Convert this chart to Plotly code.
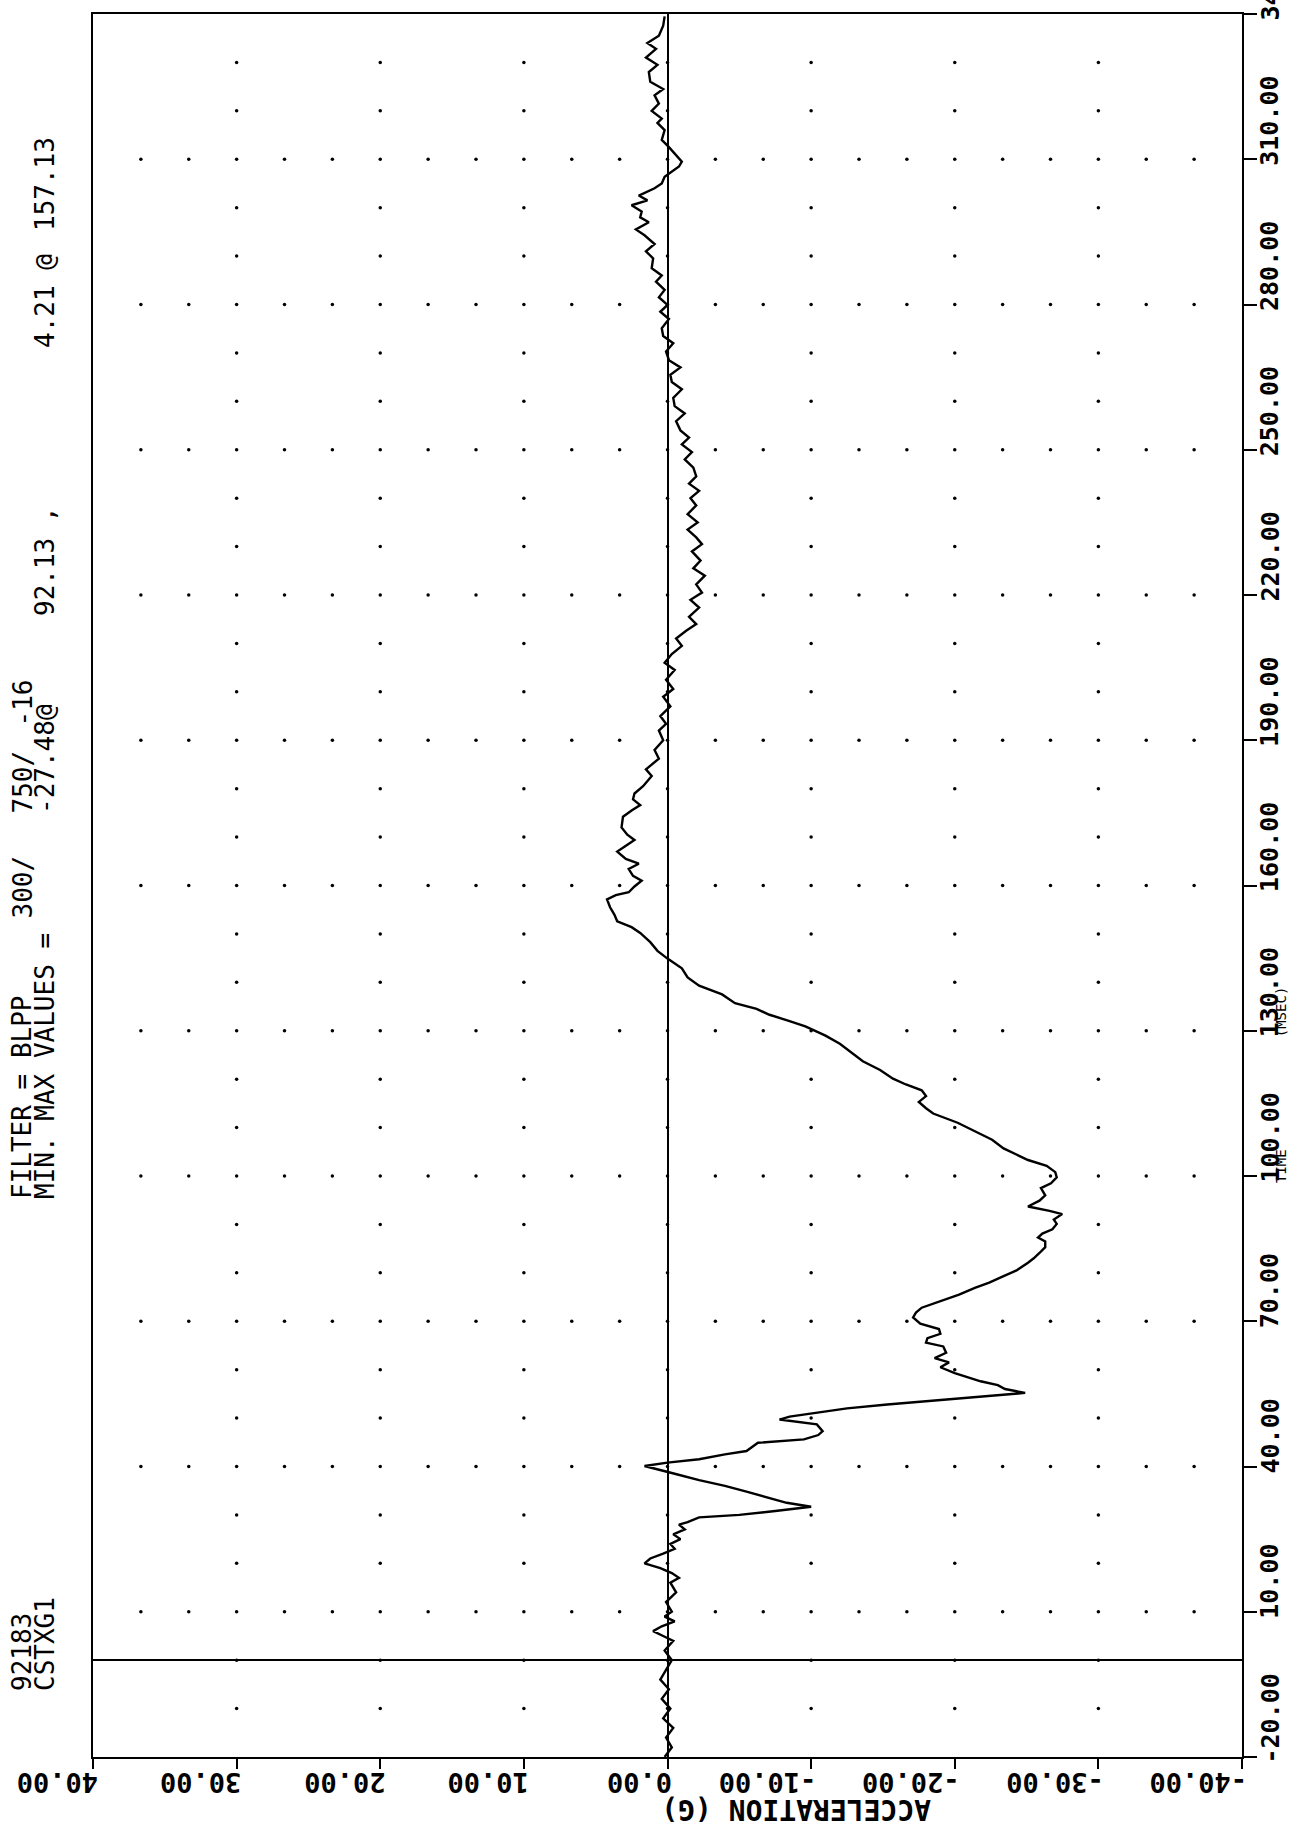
import plotly.graph_objects as go

# acceleration trace (G) versus time (msec)
time_ms = [
    -20, -18, -16, -14, -12, -10, -8, -6, -4, -2, 0, 2, 4, 5, 6, 7, 8, 9, 10, 12,
    14, 16, 17, 18, 19, 20, 21, 22, 23, 24, 25, 26, 27, 28, 28.5, 29.5, 30.0, 30.8,
    31.7, 32.5, 33.5, 34.8, 36.0, 37.2, 38.5, 40.1, 40.8, 41.5, 42.5, 43.2, 44.9,
    45.6, 46.5, 47.3, 48.7, 49.7, 50.3, 51.1, 52.0, 52.8, 53.5, 54.0, 54.6, 55.2,
    56.0, 56.8, 57.6, 58.5, 59.3, 60.5, 61.5, 62.4, 63.5, 64.8, 65.6, 66.5, 67.4,
    68.4, 69.5, 70.8, 71.8, 72.8, 73.6, 74.4, 75.5, 76.9, 78.0, 79.3, 80.5, 82.1,
    83.0, 84.1, 85.3, 86.5, 87.3, 88.1, 89.0, 90.1, 91.0, 92.13, 92.8, 93.7, 94.9,
    96.0, 97.5, 98.5, 99.7, 100.8, 102.1, 103.3, 104.5, 105.7, 107.5, 109.3, 111.0,
    112.9, 114.0, 115.3, 116.5, 117.7, 118.9, 120.1, 121.9, 123.7, 125.5, 127.3,
    129.0, 130.9, 132.0, 133.3, 134.5, 135.7, 137.5, 139.3, 141.0, 142.9, 144.9,
    146.5, 148.3, 150.2, 151.4, 152.6, 154.0, 155.5, 157.13, 158.0, 158.6, 159.8,
    161.0, 162.0, 163.4, 164.5, 165.5, 167.0, 168.0, 169.4, 170.5, 172.0, 174.2,
    175.5, 176.6, 177.8, 179.0, 180.5, 182.6, 184.0, 186.2, 188.0, 190.0, 192.0,
    193.4, 195.0, 197.0, 199.0, 200.6, 202.5, 204.5, 206.0, 207.8, 209.5, 211.0,
    212.6, 214.0, 215.5, 217.4, 219.0, 220.5, 222.2, 224.0, 225.5, 227.1, 229.0,
    230.5, 231.9, 233.5, 235.0, 236.7, 238.5, 240.0, 241.5, 243.0, 244.5, 246.3,
    248.0, 249.5, 251.1, 252.5, 254.0, 255.9, 257.5, 259.0, 260.7, 262.5, 264.0,
    265.5, 267.0, 268.5, 270.3, 272.0, 273.5, 275.1, 277.0, 278.5, 279.9, 281.5,
    283.0, 284.7, 286.0, 287.5, 289.5, 291.0, 292.5, 294.3, 295.5, 297.0, 298.0,
    299.2, 300.5, 301.5, 302.5, 304.0, 305.0, 306.4, 307.5, 308.5, 309.5, 311.2,
    312.5, 314.0, 316.0, 317.5, 318.4, 320.0, 321.5, 323.2, 324.5, 326.0, 328.0,
    329.5, 331.0, 332.8, 334.0, 335.5, 337.6, 339.5,
]
accel_g = [
    0.2, -0.3, 0.1, -0.4, 0.3, -0.2, 0.4, -0.1, 0.5, 0.1, -0.3, 0.2, -0.4, 0.3, 1.0,
    0.4, -0.5, 0.2, -0.3, 0.1, -0.6, -0.2, -0.8, -0.3, 0.5, 1.6, 1.2, 0.3, -0.5,
    -0.2, -0.9, -0.4, -1.2, -0.8, -1.4, -2.2, -5.0, -7.5, -10.0, -8.3, -7.0, -5.5,
    -4.0, -2.2, -0.5, 1.6, 0.0, -2.2, -4.0, -5.5, -6.3, -9.5, -10.5, -10.8, -10.4,
    -7.8, -8.5, -10.4, -12.5, -15.3, -18.0, -20.2, -22.5, -24.9, -23.5, -23.0,
    -21.8, -20.8, -20.0, -19.0, -19.6, -18.6, -19.4, -19.2, -18.0, -18.1, -19.0,
    -18.9, -17.6, -17.1, -17.3, -17.7, -18.5, -19.3, -20.3, -21.4, -22.4, -23.4,
    -24.3, -25.1, -25.5, -25.9, -26.3, -26.3, -25.8, -26.1, -26.8, -27.1, -26.9,
    -27.48, -26.6, -25.1, -25.9, -26.3, -26.0, -26.7, -27.1, -27.0, -26.4, -25.1,
    -24.3, -23.4, -22.6, -21.4, -20.2, -18.5, -18.0, -17.5, -18.0, -17.7, -16.6,
    -15.7, -14.8, -13.6, -12.8, -12.0, -11.0, -9.6, -8.5, -7.1, -6.2, -4.7, -3.8,
    -2.2, -1.4, -1.0, 0.0, 0.7, 1.2, 1.9, 2.5, 3.5, 3.7, 4.0, 4.21, 3.6, 2.7, 2.3,
    1.8, 2.4, 2.7, 2.0, 2.9, 3.5, 3.0, 2.3, 2.8, 3.2, 3.1, 2.5, 1.9, 2.4, 2.3, 1.7,
    1.1, 1.5, 0.6, 0.9, 0.3, 0.6, 0.1, 0.5, -0.2, 0.3, -0.4, 0.1, -0.5, 0.2, -0.3,
    -1.0, -0.6, -1.3, -2.0, -1.5, -2.2, -1.6, -2.4, -2.0, -2.6, -1.8, -2.3, -1.7,
    -2.4, -2.0, -1.4, -2.1, -1.4, -2.0, -1.6, -2.2, -1.5, -2.0, -1.8, -1.2, -1.7,
    -1.0, -1.5, -0.9, -0.6, -1.2, -0.5, -0.4, -1.0, -0.3, -0.2, -0.9, -0.1, 0.1,
    -0.4, 0.3, 0.4, -0.1, 0.5, 0.0, 0.6, 0.2, 0.8, 0.4, 1.1, 1.0, 1.5, 0.9, 1.6,
    2.2, 1.3, 1.9, 1.8, 2.5, 1.4, 2.0, 0.9, 0.4, 0.2, -0.3, -0.8, -1.0, -0.5, -0.1,
    0.4, 0.2, 0.7, 0.4, 1.1, 0.6, 0.9, 0.3, 1.2, 1.3, 0.7, 1.5, 0.8, 1.4, 0.6, 0.3,
    0.2,
]

time_ticks = [-20, 10, 40, 70, 100, 130, 160, 190, 220, 250, 280, 310, 340]
time_labels = ["-20.00", "10.00", "40.00", "70.00", "100.00", "130.00", "160.00",
               "190.00", "220.00", "250.00", "280.00", "310.00", "340.00"]
accel_ticks = [40, 30, 20, 10, 0, -10, -20, -30, -40]
accel_labels = ["40.00", "30.00", "20.00", "10.00", "0.00", "-10.00", "-20.00",
                "-30.00", "-40.00"]

filter_parts = ["FILTER = BLPP", "300/", "750/", "-16"]
minmax_parts = ["MIN. MAX VALUES =", "-27.48@", "92.13 ,", "4.21 @", "157.13"]
run_id = ["92183", "CSTXG1"]

MONO = "DejaVu Sans Mono"
L, R, T, B = 93, 1242, 12, 1757  # plot box in page pixels

# dotted grid: dense rows on the time ticks, sparse rows every 10 ms
dense_t = time_ticks[1:-1]
sparse_t = [t for t in range(-10, 340, 10) if t not in time_ticks]
dot_t, dot_a = [], []
for t in dense_t:
    for j in range(1, 24):
        dot_t.append(t)
        dot_a.append(40 - j * 10 / 3)
for t in sparse_t:
    for a in accel_ticks[1:-1]:
        dot_t.append(t)
        dot_a.append(a)

fig = go.Figure()
fig.add_trace(go.Scatter(x=dot_a, y=dot_t, mode="markers",
                         marker=dict(color="black", size=3.5), hoverinfo="skip"))
fig.add_trace(go.Scatter(x=accel_g, y=time_ms, mode="lines",
                         line=dict(color="black", width=2.4)))

ann = []
# time labels read upward, starting just below their tick
for t, lab in zip(time_ticks, time_labels):
    ann.append(dict(xref="paper", yref="y", x=1, y=t, text="<b>%s</b>" % lab,
                    textangle=-90, xanchor="left", yanchor="bottom", xshift=11,
                    yshift=-9, font=dict(family=MONO, size=25, color="black"),
                    showarrow=False))
# acceleration labels are upside down, starting just right of their tick
for a, lab in zip(accel_ticks, accel_labels):
    ann.append(dict(xref="x", yref="paper", x=a, y=0, text="<b>%s</b>" % lab,
                    textangle=180, xanchor="right", yanchor="top", xshift=7,
                    yshift=-8, font=dict(family=MONO, size=27, color="black"),
                    showarrow=False))
ann.append(dict(xref="paper", yref="paper", x=0, y=0,
                text="<b>ACCELERATION (G)</b>", textangle=180, xanchor="right",
                yanchor="middle", xshift=933 - L, yshift=B - 1810,
                font=dict(family=MONO, size=28, color="black"), showarrow=False))
for t, lab in [(100, "TIME"), (130, "(MSEC)")]:
    ann.append(dict(xref="paper", yref="y", x=1, y=t, text=lab, textangle=-90,
                    xanchor="center", yanchor="bottom", xshift=1281 - R, yshift=-9,
                    font=dict(family=MONO, size=14, color="black"), showarrow=False))

# header text written up the left margin
header = [(22, [(1201, filter_parts[0]), (921, filter_parts[1]),
                 (816, filter_parts[2]), (729, filter_parts[3])]),
          (45, [(1201, minmax_parts[0]), (816, minmax_parts[1]),
                (618, minmax_parts[2]), (350, minmax_parts[3]),
                (233, minmax_parts[4])]),
          (22, [(1693, run_id[0])]),
          (45, [(1693, run_id[1])])]
for px, parts in header:
    for py, txt in parts:
        ann.append(dict(xref="paper", yref="paper", x=0, y=0, text=txt,
                        textangle=-90, xanchor="center", yanchor="bottom",
                        xshift=px - L, yshift=B - py,
                        font=dict(family=MONO, size=26, color="black"),
                        showarrow=False))

fig.update_xaxes(range=[40, -40], tickvals=accel_ticks, showticklabels=False,
                 ticks="outside", ticklen=10, tickwidth=2, tickcolor="black",
                 showline=True, mirror=True, linecolor="black", linewidth=2,
                 showgrid=False, zeroline=True, zerolinecolor="black",
                 zerolinewidth=2)
fig.update_yaxes(range=[-20, 340], tickvals=time_ticks, showticklabels=False,
                 side="right", ticks="outside", ticklen=13, tickwidth=2,
                 tickcolor="black", showline=True, mirror=True, linecolor="black",
                 linewidth=2, showgrid=False, zeroline=True, zerolinecolor="black",
                 zerolinewidth=2)
fig.update_layout(width=1291, height=1828, showlegend=False,
                  margin=dict(l=L, r=1291 - R, t=T, b=1828 - B, pad=0),
                  paper_bgcolor="white", plot_bgcolor="white", annotations=ann)

fig.write_html("out.html", config={"displayModeBar": False},
               post_script="document.body.style.margin='0';")
